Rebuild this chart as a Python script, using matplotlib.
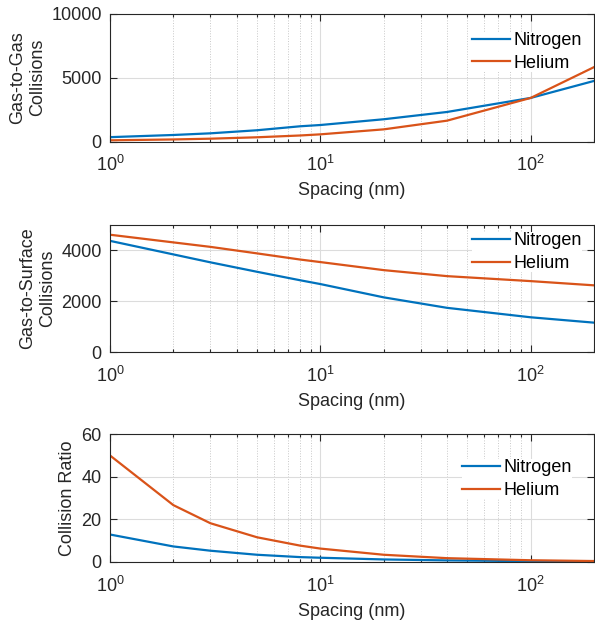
import matplotlib.pyplot as plt
from matplotlib.ticker import LogLocator, NullFormatter

plt.rcParams['font.family'] = ['Liberation Sans', 'DejaVu Sans']
plt.rcParams['mathtext.default'] = 'regular'

# spacing (nm)
spacing = [1, 2, 3, 5, 8, 10, 20, 40, 100, 200]

# gas-to-gas collisions
gg_nitrogen = [340, 510, 640, 880, 1190, 1290, 1740, 2310, 3410, 4740]
gg_helium = [92, 160, 220, 330, 470, 560, 950, 1630, 3410, 5820]

# gas-to-surface collisions
gs_nitrogen = [4360, 3830, 3520, 3150, 2820, 2670, 2150, 1740, 1370, 1160]
gs_helium = [4600, 4300, 4125, 3870, 3630, 3530, 3215, 2980, 2785, 2620]

# collision ratio
ratio_nitrogen = [12.9, 7.3, 5.3, 3.4, 2.3, 2.0, 1.2, 0.75, 0.4, 0.24]
ratio_helium = [50.0, 26.7, 18.2, 11.6, 7.7, 6.3, 3.4, 1.8, 0.82, 0.45]

blue = '#0072BD'
orange = '#D95319'
dark = '#262626'

fig = plt.figure(figsize=(5.95, 6.25), dpi=100)

panels = [
    (0.7736, gg_nitrogen, gg_helium, 'Gas-to-Gas\nCollisions', (0, 10000), [0, 5000, 10000], (0.748, 0.858)),
    (0.4363, gs_nitrogen, gs_helium, 'Gas-to-Surface\nCollisions', (0, 5000), [0, 2000, 4000], (0.748, 0.938)),
    (0.1008, ratio_nitrogen, ratio_helium, 'Collision Ratio', (0, 60), [0, 20, 40, 60], (0.728, 0.803)),
]

for bottom, n2, he, ylab, ylim, yticks, leg_pos in panels:
    ax = fig.add_axes([0.1849, bottom, 0.8135, 0.2045])
    ax.plot(spacing, n2, color=blue, lw=1.6, label='Nitrogen')
    ax.plot(spacing, he, color=orange, lw=1.6, label='Helium')
    ax.set_xscale('log')
    ax.set_xlim(1, 200)
    ax.set_ylim(*ylim)
    ax.set_yticks(yticks)
    ax.xaxis.set_minor_locator(LogLocator(base=10, subs=range(2, 10)))
    ax.xaxis.set_minor_formatter(NullFormatter())
    ax.grid(True, which='major', color='#dcdcdc', lw=0.8)
    ax.grid(True, which='minor', axis='x', color='#c8c8c8', lw=0.7, ls=':')
    ax.set_axisbelow(True)
    ax.tick_params(which='both', direction='in', top=True, right=True,
                   labelsize=13, colors=dark, width=0.8)
    ax.tick_params(which='major', length=5)
    ax.tick_params(which='minor', length=2.5)
    ax.tick_params(axis='x', which='major', pad=10)
    ax.tick_params(axis='y', which='major', pad=6)
    for s in ax.spines.values():
        s.set_color(dark)
        s.set_linewidth(0.8)
    ax.set_xlabel('Spacing (nm)', fontsize=13, color=dark, labelpad=5)
    ax.set_ylabel(ylab, fontsize=13, color=dark, labelpad=4)
    ax.legend(loc='upper left', bbox_to_anchor=leg_pos, frameon=True,
              facecolor='white', edgecolor='none', framealpha=1, fancybox=False,
              fontsize=13, handlelength=2.1, handletextpad=0.2,
              labelspacing=0.32, borderpad=0.0, borderaxespad=0.0)

fig.savefig('out.png', dpi=100)
